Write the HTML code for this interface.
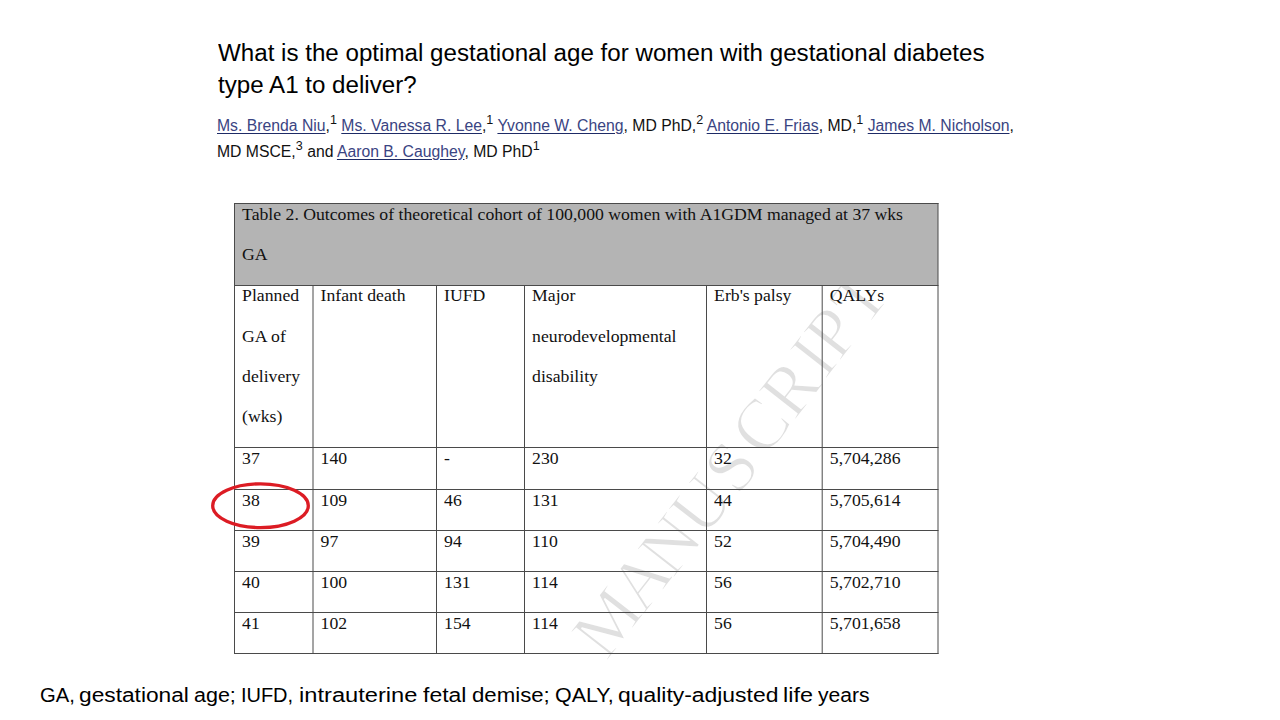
<!DOCTYPE html>
<html><head><meta charset="utf-8">
<style>
html,body{margin:0;padding:0;background:#fff;}
body{width:1280px;height:720px;position:relative;overflow:hidden;}
.t{position:absolute;white-space:nowrap;}
svg{position:absolute;left:0;top:0;}
#title{left:218px;top:37px;font-family:"Liberation Sans",sans-serif;font-size:23px;line-height:32px;color:#000;transform:scaleX(1.05);transform-origin:0 0;}
#auth{left:217px;top:113px;font-family:"Liberation Sans",sans-serif;font-size:15.8px;line-height:26px;color:#111;transform:scaleX(0.997);transform-origin:0 0;}
#auth a{color:#3a4482;text-decoration:underline;text-decoration-color:#1e2b66;text-underline-offset:1.6px;}
#auth sup{font-size:12.6px;vertical-align:7px;line-height:0;}
.c{position:absolute;white-space:nowrap;font-family:"Liberation Serif",serif;font-size:17.7px;line-height:1;color:#111;}
.f{position:absolute;top:685px;white-space:nowrap;font-family:"Liberation Sans",sans-serif;font-size:20px;line-height:1;color:#000;transform-origin:0 0;}
</style></head><body>
<svg width="1280" height="720"><text x="0" y="0" dx="0 -4 -6 -1 2 6 0 3 -1 2" dy="2 0.5 1 0 0.5 -2 0 -1 0 0" transform="translate(604.6,660.9) rotate(-52)" font-family="Liberation Serif" font-size="72" fill="#e0e0e0" stroke="#fff" stroke-width="1.6">MANUSCRIPT</text></svg>
<svg width="1280" height="720"><rect x="234.5" y="203.5" width="703.5" height="82.0" fill="#b4b4b4"/></svg>
<svg width="1280" height="720"><g stroke="#4a4a4a" stroke-width="1">
<line x1="234.5" y1="203.0" x2="234.5" y2="654.0"/>
<line x1="313" y1="285.5" x2="313" y2="654.0"/>
<line x1="436.5" y1="285.5" x2="436.5" y2="654.0"/>
<line x1="524.5" y1="285.5" x2="524.5" y2="654.0"/>
<line x1="706.5" y1="285.5" x2="706.5" y2="654.0"/>
<line x1="822.2" y1="285.5" x2="822.2" y2="654.0"/>
<line x1="938" y1="203.0" x2="938" y2="654.0"/>
<line x1="234.0" y1="203.5" x2="938.5" y2="203.5"/>
<line x1="234.0" y1="285.5" x2="938.5" y2="285.5"/>
<line x1="234.0" y1="447.5" x2="938.5" y2="447.5"/>
<line x1="234.0" y1="489.5" x2="938.5" y2="489.5"/>
<line x1="234.0" y1="530.5" x2="938.5" y2="530.5"/>
<line x1="234.0" y1="571.5" x2="938.5" y2="571.5"/>
<line x1="234.0" y1="612.5" x2="938.5" y2="612.5"/>
<line x1="234.0" y1="653.5" x2="938.5" y2="653.5"/>
</g></svg>
<div class="t" id="title">What is the optimal gestational age for women with gestational diabetes<br>type A1 to deliver?</div>
<div class="t" id="auth"><a>Ms. Brenda Niu</a>,<sup>1</sup> <a>Ms. Vanessa R. Lee</a>,<sup>1</sup> <a>Yvonne W. Cheng</a>, MD PhD,<sup>2</sup> <a>Antonio E. Frias</a>, MD,<sup>1</sup> <a>James M. Nicholson</a>,<br>MD MSCE,<sup>3</sup> and <a>Aaron B. Caughey</a>, MD PhD<sup>1</sup></div>
<div class="c" style="left:242.1px;top:205.7px">Table 2. Outcomes of theoretical cohort of 100,000 women with A1GDM managed at 37 wks</div>
<div class="c" style="left:242.1px;top:245.8px">GA</div>
<div class="c" style="left:242.1px;top:287.3px">Planned</div>
<div class="c" style="left:242.1px;top:327.6px">GA of</div>
<div class="c" style="left:242.1px;top:368.0px">delivery</div>
<div class="c" style="left:242.1px;top:408.3px">(wks)</div>
<div class="c" style="left:320.6px;top:287.3px">Infant death</div>
<div class="c" style="left:444.1px;top:287.3px">IUFD</div>
<div class="c" style="left:532.1px;top:287.3px">Major</div>
<div class="c" style="left:532.1px;top:327.6px">neurodevelopmental</div>
<div class="c" style="left:532.1px;top:368.0px">disability</div>
<div class="c" style="left:714.1px;top:287.3px">Erb's palsy</div>
<div class="c" style="left:829.8px;top:287.3px">QALYs</div>
<div class="c" style="left:242.1px;top:450.0px">37</div>
<div class="c" style="left:320.6px;top:450.0px">140</div>
<div class="c" style="left:444.1px;top:450.0px">-</div>
<div class="c" style="left:532.1px;top:450.0px">230</div>
<div class="c" style="left:714.1px;top:450.0px">32</div>
<div class="c" style="left:829.8px;top:450.0px">5,704,286</div>
<div class="c" style="left:242.1px;top:491.6px">38</div>
<div class="c" style="left:320.6px;top:491.6px">109</div>
<div class="c" style="left:444.1px;top:491.6px">46</div>
<div class="c" style="left:532.1px;top:491.6px">131</div>
<div class="c" style="left:714.1px;top:491.6px">44</div>
<div class="c" style="left:829.8px;top:491.6px">5,705,614</div>
<div class="c" style="left:242.1px;top:532.8px">39</div>
<div class="c" style="left:320.6px;top:532.8px">97</div>
<div class="c" style="left:444.1px;top:532.8px">94</div>
<div class="c" style="left:532.1px;top:532.8px">110</div>
<div class="c" style="left:714.1px;top:532.8px">52</div>
<div class="c" style="left:829.8px;top:532.8px">5,704,490</div>
<div class="c" style="left:242.1px;top:574.2px">40</div>
<div class="c" style="left:320.6px;top:574.2px">100</div>
<div class="c" style="left:444.1px;top:574.2px">131</div>
<div class="c" style="left:532.1px;top:574.2px">114</div>
<div class="c" style="left:714.1px;top:574.2px">56</div>
<div class="c" style="left:829.8px;top:574.2px">5,702,710</div>
<div class="c" style="left:242.1px;top:615.3px">41</div>
<div class="c" style="left:320.6px;top:615.3px">102</div>
<div class="c" style="left:444.1px;top:615.3px">154</div>
<div class="c" style="left:532.1px;top:615.3px">114</div>
<div class="c" style="left:714.1px;top:615.3px">56</div>
<div class="c" style="left:829.8px;top:615.3px">5,701,658</div>
<svg width="1280" height="720"><ellipse cx="260.5" cy="505.7" rx="47.8" ry="21.9" fill="none" stroke="#dc1c24" stroke-width="3.3"/></svg>
<div class="f" style="left:39.69px;transform:scaleX(1.0094)">GA,</div>
<div class="f" style="left:79.06px;transform:scaleX(1.1358)">gestational</div>
<div class="f" style="left:193.62px;transform:scaleX(1.0750)">age;</div>
<div class="f" style="left:240.90px;transform:scaleX(1.0000)">IUFD,</div>
<div class="f" style="left:299.32px;transform:scaleX(1.1837)">intrauterine</div>
<div class="f" style="left:422.50px;transform:scaleX(1.1486)">fetal</div>
<div class="f" style="left:471.99px;transform:scaleX(1.1104)">demise;</div>
<div class="f" style="left:555.18px;transform:scaleX(1.0702)">QALY,</div>
<div class="f" style="left:617.96px;transform:scaleX(1.1449)">quality-adjusted</div>
<div class="f" style="left:782.53px;transform:scaleX(1.1708)">life</div>
<div class="f" style="left:818.10px;transform:scaleX(1.0552)">years</div>
</body></html>
